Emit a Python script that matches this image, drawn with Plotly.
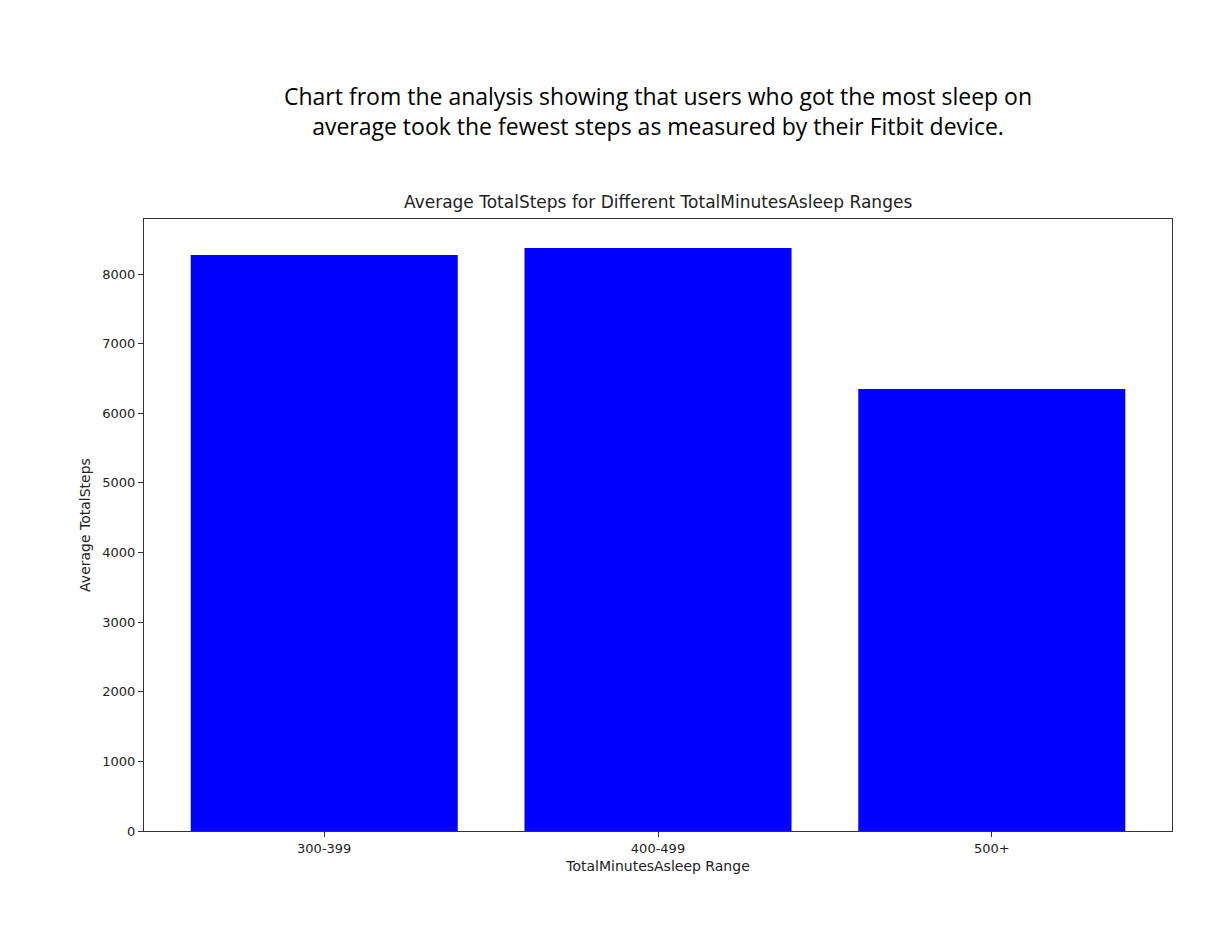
import plotly.graph_objs as go

# data
sleep_ranges = ['300-399', '400-499', '500+']
avg_steps = [8272, 8372, 6350]
y_ticks = [0, 1000, 2000, 3000, 4000, 5000, 6000, 7000, 8000]

font_mpl = 'DejaVu Sans'

trace = go.Bar(
    x=list(range(len(sleep_ranges))),
    y=avg_steps,
    width=0.8,
    marker=dict(color='#0000ff', line=dict(width=0)))

layout = go.Layout(
    width=1223, height=926,
    paper_bgcolor='white', plot_bgcolor='white',
    margin=dict(l=136, r=59, t=211, b=103),
    showlegend=False,
    font=dict(family=font_mpl, size=13, color='#222222'),
    xaxis=dict(
        range=[-0.54, 2.54],
        tickmode='array', tickvals=list(range(len(sleep_ranges))), ticktext=sleep_ranges,
        ticks='outside', ticklen=5, tickcolor='#333333',
        showline=True, linecolor='#333333', linewidth=1, mirror=True,
        showgrid=False, zeroline=False,
        title=dict(text='TotalMinutesAsleep Range', standoff=6, font=dict(size=14))),
    yaxis=dict(
        range=[0, 8790],
        tickmode='array', tickvals=y_ticks,
        ticks='outside', ticklen=5, tickcolor='#333333',
        showline=True, linecolor='#333333', linewidth=1, mirror=True,
        showgrid=False, zeroline=False,
        title=dict(text='Average TotalSteps', standoff=8, font=dict(size=14))),
    annotations=[
        dict(text='Chart from the analysis showing that users who got the most sleep on<br>'
                  'average took the fewest steps as measured by their Fitbit device.',
             x=0.5, xref='paper', y=102, yref='paper', yanchor='middle',
             showarrow=False, font=dict(family='Open Sans', size=23, color='black')),
        dict(text='Average TotalSteps for Different TotalMinutesAsleep Ranges',
             x=0.5, xref='paper', y=1.0, yref='paper', yanchor='bottom', yshift=5,
             showarrow=False, font=dict(family=font_mpl, size=17, color='#222222')),
    ])

fig = go.Figure(data=[trace], layout=layout)
# place the big caption in pixel terms
fig.layout.annotations[0].update(y=1 + (211 - 103) / 612, yanchor='middle')
fig.write_html('out.html')
